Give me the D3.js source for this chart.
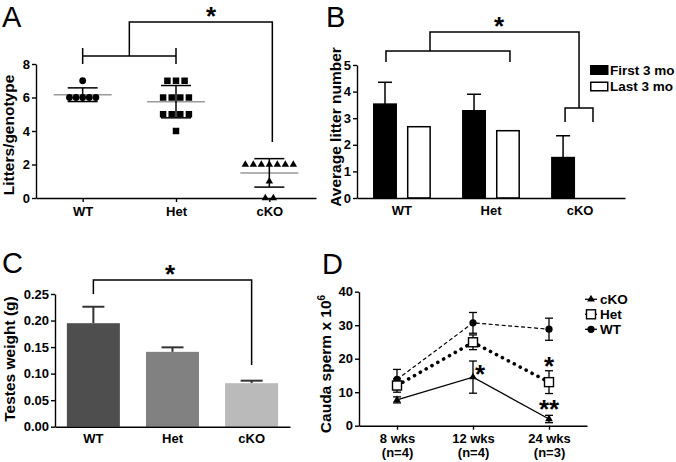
<!DOCTYPE html>
<html>
<head>
<meta charset="utf-8">
<script src="https://cdn.jsdelivr.net/npm/d3@7/dist/d3.min.js"></script>
<style>
  html, body { margin: 0; padding: 0; background: #fff; }
  svg { display: block; }
</style>
</head>
<body>
<script>
// ---------------- DATA ----------------
const genotypes = ["WT", "Het", "cKO"];

// Panel A: litters per genotype (individual animals)
const littersWT  = [7, 6, 6, 6, 6, 6];
const littersHet = [7, 7, 7, 6, 6, 6, 6, 5, 5, 5, 5, 4];
const littersCKO = [2, 2, 2, 2, 2, 2, 2, 1, 0, 0];
const litterTicks = [0, 2, 4, 6, 8];

// Panel B: average litter number
const periods = ["First 3 mo", "Last 3 mo"];
const firstMo    = [3.53, 3.28, 1.52];
const firstMoErr = [0.82, 0.62, 0.82];
const lastMo     = [2.68, 2.53, 0];
const litterNumTicks = [0, 1, 2, 3, 4, 5];

// Panel C: testes weight (g)
const testesWeight = [0.195, 0.141, 0.082];
const testesErr    = [0.031, 0.0085, 0.0047];
const weightTicks  = [0, 0.05, 0.10, 0.15, 0.20, 0.25];

// Panel D: cauda sperm x 10^6
const timepoints = ["8 wks", "12 wks", "24 wks"];
const nLabels    = ["(n=4)", "(n=4)", "(n=3)"];
const spermWT    = [13.8, 30.7, 28.8];
const spermWTErr = [3.0, 3.1, 3.3];
const spermHet    = [12.0, 24.9, 13.0];
const spermHetErr = [2.0, 2.2, 3.4];
const spermCKO    = [7.7, 14.5, 2.0];
const spermCKOErr = [0.9, 4.8, 1.1];
const spermTicks = [0, 10, 20, 30, 40];
const legendD = ["cKO", "Het", "WT"];

// ---------------- SETUP ----------------
const FONT = "'Liberation Sans', Arial, Helvetica, sans-serif";
const svg = d3.select("body").append("svg")
  .attr("width", 676).attr("height", 462)
  .attr("font-family", FONT).attr("font-weight", "bold");

function styleAxis(g, fs) {
  g.attr("font-family", FONT).attr("font-size", fs || 13).attr("font-weight", "bold");
  g.select(".domain").attr("stroke", "#000").attr("stroke-width", 1.4);
  g.selectAll(".tick line").attr("stroke", "#000").attr("stroke-width", 1.4);
  g.selectAll(".tick text").attr("fill", "#000");
}
function panelLetter(t, x, y) {
  svg.append("text").attr("x", x).attr("y", y).text(t)
    .attr("font-size", 29).attr("font-weight", "normal").attr("fill", "#000");
}
function yTitle(g, t, x, y, fs) {
  return g.append("text").attr("transform", `translate(${x},${y}) rotate(-90)`)
    .attr("text-anchor", "middle").attr("font-size", fs || 15.5).attr("fill", "#000").text(t);
}
function star(g, t, cx, cy) {
  const fs = 26;
  g.append("text").attr("x", cx).attr("y", cy + fs * 0.57)
    .attr("text-anchor", "middle").attr("font-size", fs).attr("fill", "#000").text(t);
}
function pathLine(g, pts, w, col) {
  return g.append("path").attr("d", d3.line()(pts)).attr("fill", "none")
    .attr("stroke", col || "#000").attr("stroke-width", w || 1.5);
}

// ---------------- PANEL A ----------------
{
  const g = svg.append("g");
  const x = d3.scalePoint().domain(genotypes).range([36, 316]).padding(0.5);
  const y = d3.scaleLinear().domain([0, 8]).range([198, 64]);

  g.append("g").attr("transform", "translate(36,0)")
    .call(d3.axisLeft(y).tickValues(litterTicks).tickFormat(d3.format("d")).tickSize(4).tickPadding(2).tickSizeOuter(0))
    .call(s => styleAxis(s));
  g.append("g").attr("transform", "translate(0,198)")
    .call(d3.axisBottom(x).tickSize(4).tickPadding(5).tickSizeOuter(0))
    .call(s => styleAxis(s));

  const sets = [
    { name: "WT",  vals: littersWT,  sym: d3.symbolCircle,   size: 36, sp: 6.6 },
    { name: "Het", vals: littersHet, sym: d3.symbolSquare,   size: 42, sp: 8.6 },
    { name: "cKO", vals: littersCKO, sym: d3.symbolTriangle, size: 24, sp: 8.0 }
  ];
  sets.forEach(s => {
    const cx = x(s.name);
    const m = d3.mean(s.vals), sd = d3.deviation(s.vals);
    g.append("line").attr("x1", cx - 29).attr("x2", cx + 29)
      .attr("y1", y(m)).attr("y2", y(m)).attr("stroke", "#9a9a9a").attr("stroke-width", 1.5);
    pathLine(g, [[cx, y(m - sd)], [cx, y(m + sd)]], 1.5);
    pathLine(g, [[cx - 15, y(m + sd)], [cx + 15, y(m + sd)]], 1.5);
    pathLine(g, [[cx - 15, y(m - sd)], [cx + 15, y(m - sd)]], 1.5);
    const grp = d3.group(s.vals, v => v);
    grp.forEach((arr, v) => {
      arr.forEach((_, i) => {
        const ox = (i - (arr.length - 1) / 2) * s.sp;
        g.append("path").attr("d", d3.symbol().type(s.sym).size(s.size)())
          .attr("transform", `translate(${cx + ox},${y(v)})`).attr("fill", "#000");
      });
    });
  });

  yTitle(g, "Litters/genotype", 14, 135);

  const xw = x("WT"), xh = x("Het"), xk = x("cKO") + 3;
  const xm = (xw + xh) / 2;
  pathLine(g, [[xw, 56], [xh, 56]]);
  pathLine(g, [[xw, 48], [xw, 64]]);
  pathLine(g, [[xh, 48], [xh, 64]]);
  pathLine(g, [[xm, 56], [xm, 22], [xk, 22], [xk, 142]]);
  star(g, "*", 211, 10);
  panelLetter("A", 2, 27);
}

// ---------------- PANEL B ----------------
{
  const g = svg.append("g");
  const x0 = d3.scaleBand().domain(genotypes).range([357, 625]).paddingInner(0.35).paddingOuter(0.18);
  const x1 = d3.scaleBand().domain(periods).range([0, x0.bandwidth()]).paddingInner(0.294);
  const y = d3.scaleLinear().domain([0, 5]).range([198, 65]);

  const rows = genotypes.map((gname, i) => ({
    g: gname,
    vals: [{ p: periods[0], v: firstMo[i], e: firstMoErr[i] }, { p: periods[1], v: lastMo[i], e: 0 }]
  }));
  rows.forEach(r => {
    r.vals.forEach(d => {
      if (d.v <= 0) return;
      const bx = x0(r.g) + x1(d.p), bw = x1.bandwidth();
      if (d.e > 0) {
        pathLine(g, [[bx + bw / 2, y(d.v)], [bx + bw / 2, y(d.v + d.e)]], 1.5);
        pathLine(g, [[bx + bw / 2 - 7, y(d.v + d.e)], [bx + bw / 2 + 7, y(d.v + d.e)]], 1.5);
      }
      g.append("rect").attr("x", bx + 0.75).attr("y", y(d.v))
        .attr("width", bw - 1.5).attr("height", y(0) - y(d.v))
        .attr("fill", d.p === periods[0] ? "#000" : "#fff")
        .attr("stroke", "#000").attr("stroke-width", 1.5);
    });
  });

  g.append("g").attr("transform", "translate(357,0)")
    .call(d3.axisLeft(y).tickValues(litterNumTicks).tickFormat(d3.format("d")).tickSize(4).tickPadding(2).tickSizeOuter(0))
    .call(s => styleAxis(s));
  g.append("g").attr("transform", "translate(0,198)")
    .call(d3.axisBottom(x0).tickSize(0).tickPadding(8).tickSizeOuter(0))
    .call(s => styleAxis(s));

  yTitle(g, "Average litter number", 341, 127);

  periods.forEach((p, i) => {
    const ly = 65 + i * 16.5;
    g.append("rect").attr("x", 590.75).attr("y", ly + 0.75).attr("width", 17).attr("height", 8.5)
      .attr("fill", i === 0 ? "#000" : "#fff").attr("stroke", "#000").attr("stroke-width", 1.5);
    g.append("text").attr("x", 610).attr("y", ly + 9.5).attr("font-size", 13.5).attr("fill", "#000").text(p);
  });

  const cx = (gn, p) => x0(gn) + x1(p) + x1.bandwidth() / 2;
  const l = cx("WT", periods[0]) + 1, r = cx("Het", periods[1]) + 2;
  pathLine(g, [[l, 62], [l, 51], [r, 51], [r, 62]]);
  const kl = cx("cKO", periods[0]) + 2, kr = cx("cKO", periods[1]) - 4;
  pathLine(g, [[kl, 122], [kl, 108], [kr, 108], [kr, 122]]);
  const km = (kl + kr) / 2;
  pathLine(g, [[430, 51], [430, 32], [km, 32], [km, 108]]);
  star(g, "*", 499, 20);
  panelLetter("B", 326, 27);
}

// ---------------- PANEL C ----------------
{
  const g = svg.append("g");
  const x = d3.scaleBand().domain(genotypes).range([55, 290]).paddingInner(0.33).paddingOuter(0.15);
  const y = d3.scaleLinear().domain([0, 0.25]).range([426.7, 294]);
  const fills = ["#4e4e4e", "#818181", "#bababa"];

  genotypes.forEach((gn, i) => {
    const bx = x(gn), bw = x.bandwidth(), v = testesWeight[i], e = testesErr[i];
    pathLine(g, [[bx + bw / 2, y(v)], [bx + bw / 2, y(v + e)]], 2, "#333");
    pathLine(g, [[bx + bw / 2 - 11, y(v + e)], [bx + bw / 2 + 11, y(v + e)]], 2, "#333");
    g.append("rect").attr("x", bx).attr("y", y(v)).attr("width", bw)
      .attr("height", y(0) - y(v)).attr("fill", fills[i]);
  });

  g.append("g").attr("transform", "translate(55,0)")
    .call(d3.axisLeft(y).tickValues(weightTicks).tickFormat(d3.format(".2f")).tickSize(4).tickPadding(2).tickSizeOuter(0))
    .call(s => styleAxis(s));
  g.append("g").attr("transform", "translate(0,426.7)")
    .call(d3.axisBottom(x).tickSize(0).tickPadding(7).tickSizeOuter(0))
    .call(s => styleAxis(s));

  yTitle(g, "Testes weight (g)", 15, 359);

  const xw = x("WT") + x.bandwidth() / 2, xk = x("cKO") + x.bandwidth() / 2;
  pathLine(g, [[xw, 294], [xw, 280], [xk, 280], [xk, 365]]);
  star(g, "*", 170, 268);
  panelLetter("C", 2, 273);
}

// ---------------- PANEL D ----------------
{
  const g = svg.append("g");
  const x = d3.scalePoint().domain(timepoints).range([359, 587]).padding(0.5);
  const y = d3.scaleLinear().domain([0, 40]).range([425.7, 291.7]);

  const series = [
    { name: "WT",  vals: spermWT,  err: spermWTErr,  dash: "4,2.5", w: 1.2, cap: "butt" },
    { name: "Het", vals: spermHet, err: spermHetErr, dash: "0.1,6.6", w: 3.6, cap: "round" },
    { name: "cKO", vals: spermCKO, err: spermCKOErr, dash: null, w: 1.3, cap: "butt" }
  ];
  const line = d3.line().x((d, i) => x(timepoints[i])).y(d => y(d));

  series.forEach(s => {
    g.append("path").attr("d", line(s.vals)).attr("fill", "none")
      .attr("stroke", "#000").attr("stroke-width", s.w)
      .attr("stroke-dasharray", s.dash).attr("stroke-linecap", s.cap);
  });
  series.forEach(s => {
    s.vals.forEach((v, i) => {
      const cx = x(timepoints[i]);
      pathLine(g, [[cx, y(v - s.err[i])], [cx, y(v + s.err[i])]], 1.3);
      pathLine(g, [[cx - 4, y(v + s.err[i])], [cx + 4, y(v + s.err[i])]], 1.3);
      pathLine(g, [[cx - 4, y(v - s.err[i])], [cx + 4, y(v - s.err[i])]], 1.3);
    });
  });
  const marker = (name, cx, cy) => {
    if (name === "WT") {
      g.append("circle").attr("cx", cx).attr("cy", cy).attr("r", 3.6).attr("fill", "#000");
    } else if (name === "Het") {
      g.append("rect").attr("x", cx - 4.5).attr("y", cy - 4.5).attr("width", 9).attr("height", 9)
        .attr("fill", "#fff").attr("stroke", "#000").attr("stroke-width", 1.4);
    } else {
      g.append("path").attr("d", d3.symbol().type(d3.symbolTriangle).size(26)())
        .attr("transform", `translate(${cx},${cy})`).attr("fill", "#000");
    }
  };
  series.forEach(s => s.vals.forEach((v, i) => marker(s.name, x(timepoints[i]), y(v))));

  g.append("g").attr("transform", "translate(359,0)")
    .call(d3.axisLeft(y).tickValues(spermTicks).tickFormat(d3.format("d")).tickSize(4).tickPadding(2).tickSizeOuter(0))
    .call(s => styleAxis(s));
  const xa = g.append("g").attr("transform", "translate(0,425.7)")
    .call(d3.axisBottom(x).tickSize(4).tickPadding(4).tickSizeOuter(0))
    .call(s => styleAxis(s));
  xa.selectAll(".tick text").each(function (d, i) {
    const t = d3.select(this);
    t.text(null).attr("dy", null);
    t.append("tspan").attr("x", 0).attr("dy", "0.71em").text(d);
    t.append("tspan").attr("x", 0).attr("dy", 14).text(nLabels[i]);
  });

  const yt = yTitle(g, "Cauda sperm x 10", 331, 364);
  yt.append("tspan").attr("dy", -6).attr("font-size", 10).text("6");

  legendD.forEach((nm, i) => {
    const ly = 299.3 + i * 15;
    pathLine(g, [[585, ly], [597, ly]], 1.3);
    marker(nm, 591, ly);
    g.append("text").attr("x", 600).attr("y", ly + 5).attr("font-size", 13.5).attr("fill", "#000").text(nm);
  });

  star(g, "*", 480, 368);
  star(g, "*", 549, 360);
  star(g, "**", 549, 403);
  panelLetter("D", 322, 274);
}
</script>
</body>
</html>
